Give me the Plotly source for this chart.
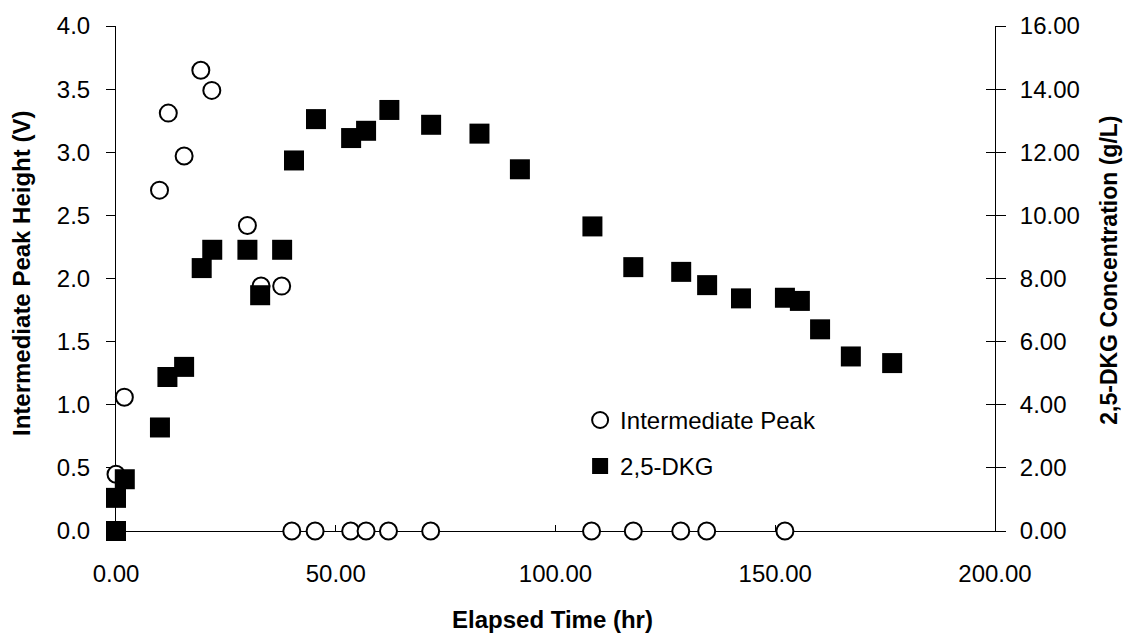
import plotly.graph_objects as go

# Intermediate peak height (V) versus elapsed time (hr)
peak_time = [0.0, 1.9, 9.9, 11.9, 15.5, 19.3, 21.8, 29.9, 33.0, 37.7,
             40.0, 45.3, 53.4, 56.9, 62.0, 71.6, 108.2, 117.7, 128.5, 134.4, 152.2]
peak_height = [0.45, 1.06, 2.70, 3.31, 2.97, 3.65, 3.49, 2.42, 1.94, 1.94,
               0.0, 0.0, 0.0, 0.0, 0.0, 0.0, 0.0, 0.0, 0.0, 0.0, 0.0]

# 2,5-DKG concentration (g/L) versus elapsed time (hr)
dkg_time = [0.0, 0.0, 2.0, 10.0, 11.7, 15.5, 19.5, 21.9, 29.9, 32.8, 37.8,
            40.5, 45.5, 53.5, 56.9, 62.2, 71.7, 82.7, 91.9, 108.4, 117.7,
            128.6, 134.5, 142.2, 152.2, 155.6, 160.2, 167.2, 176.6]
dkg_conc = [0.0, 1.05, 1.64, 3.28, 4.88, 5.20, 8.33, 8.91, 8.91, 7.47, 8.91,
            11.74, 13.05, 12.45, 12.68, 13.34, 12.87, 12.59, 11.46, 9.65, 8.36,
            8.21, 7.79, 7.37, 7.39, 7.29, 6.39, 5.53, 5.32]

x_ticks = [0, 50, 100, 150, 200]
left_ticks = [0, 0.5, 1.0, 1.5, 2.0, 2.5, 3.0, 3.5, 4.0]
right_ticks = [0, 2, 4, 6, 8, 10, 12, 14, 16]

FONT = "Liberation Sans, Arial, sans-serif"

fig = go.Figure()

fig.add_trace(go.Scatter(
    x=peak_time, y=peak_height, mode="markers", name="Intermediate Peak",
    marker=dict(symbol="circle", size=17, color="white",
                line=dict(color="black", width=2)),
    cliponaxis=False, legend="legend", yaxis="y",
))
fig.add_trace(go.Scatter(
    x=dkg_time, y=dkg_conc, mode="markers", name="2,5-DKG",
    marker=dict(symbol="square", size=20, color="black",
                line=dict(color="black", width=0)),
    cliponaxis=False, legend="legend2", yaxis="y2",
))

tick_font = dict(family=FONT, size=24, color="black")
title_font = dict(family=FONT, size=24, color="black", weight="bold")
right_title_font = dict(family=FONT, size=23, color="black", weight="bold")
legend_font = dict(family=FONT, size=24, color="black")

fig.update_layout(
    width=1125, height=637,
    margin=dict(l=116, r=130, t=24, b=106),
    paper_bgcolor="white", plot_bgcolor="white",
    showlegend=True,
    xaxis=dict(
        range=[0, 200], tickvals=x_ticks, tickformat=".2f",
        showgrid=False, zeroline=False, showline=True, linecolor="black",
        linewidth=1, ticks="inside", ticklen=6, tickcolor="black",
        tickfont=tick_font, ticklabelstandoff=21, layer="below traces",
    ),
    yaxis=dict(
        range=[0, 4], tickvals=left_ticks, tickformat=".1f",
        showgrid=False, zeroline=False, showline=True, linecolor="black",
        linewidth=1, ticks="outside", ticklen=9, tickcolor="black",
        tickfont=tick_font, ticklabelstandoff=11, layer="below traces",
    ),
    yaxis2=dict(
        range=[0, 16], tickvals=right_ticks, tickformat=".2f",
        overlaying="y", side="right", anchor="x",
        showgrid=False, zeroline=False, showline=True, linecolor="black",
        linewidth=1, ticks="outside", ticklen=10, tickcolor="black",
        tickfont=tick_font, ticklabelstandoff=9, layer="below traces",
    ),
    yaxis3=dict(
        range=[0, 16], tickvals=right_ticks, overlaying="y", side="right",
        anchor="x", showgrid=False, zeroline=False, showline=False,
        ticks="inside", ticklen=9, tickcolor="black", showticklabels=False,
        layer="below traces",
    ),
    legend=dict(
        x=0.528, y=0.219, xanchor="left", yanchor="middle",
        bgcolor="rgba(0,0,0,0)", borderwidth=0, font=legend_font,
    ),
    legend2=dict(
        x=0.528, y=0.128, xanchor="left", yanchor="middle",
        bgcolor="rgba(0,0,0,0)", borderwidth=0, font=legend_font,
    ),
    annotations=[
        dict(text="Elapsed Time (hr)", xref="paper", yref="paper",
             x=0.497, y=-0.1755, xanchor="center", yanchor="middle",
             showarrow=False, font=title_font),
        dict(text="Intermediate Peak Height (V)", xref="paper", yref="paper",
             x=-0.1069, y=0.509, xanchor="center", yanchor="middle",
             textangle=-90, showarrow=False, font=title_font),
        dict(text="2,5-DKG Concentration (g/L)", xref="paper", yref="paper",
             x=1.1295, y=0.517, xanchor="center", yanchor="middle",
             textangle=-90, showarrow=False, font=right_title_font),
    ],
)

# empty trace so the inside-tick axis on the right is rendered
fig.add_trace(go.Scatter(x=[None], y=[None], yaxis="y3", showlegend=False,
                         hoverinfo="skip"))

fig.write_html("out.html")
